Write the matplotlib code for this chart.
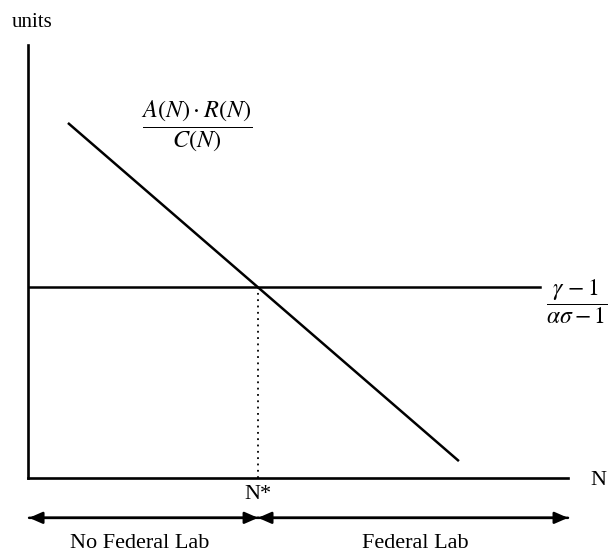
import matplotlib
matplotlib.use("Agg")
import matplotlib.pyplot as plt

plt.rcParams['font.family'] = ['Liberation Serif', 'DejaVu Serif']
plt.rcParams['mathtext.fontset'] = 'stix'

# chart values (arbitrary units, axis box is 0..10 both ways)
curve_n = [0.74, 7.98]
curve_val = [8.2, 0.39]
threshold = 4.4
threshold_end = 9.48
n_star = 4.26
region_labels = ["No Federal Lab", "Federal Lab"]
region_centers = [2.07, 7.17]

fig = plt.figure(figsize=(6.08, 5.52), dpi=100)
# axis box placed in pixels: left 28, right 568, top 45, bottom 478
ax = fig.add_axes([28 / 608, (552 - 478) / 552, 540 / 608, 433 / 552])
ax.set_xlim(0, 10)
ax.set_ylim(0, 10)
for s in ["top", "right"]:
    ax.spines[s].set_visible(False)
for s in ["left", "bottom"]:
    ax.spines[s].set_linewidth(1.9)
ax.set_xticks([])
ax.set_yticks([])

# downward sloping curve and flat threshold
ax.plot(curve_n, curve_val, color="black", lw=1.8, solid_capstyle="butt")
ax.plot([0, threshold_end], [threshold, threshold], color="black", lw=1.8)
ax.plot([n_star, n_star], [0, threshold], color="black", lw=1.3, ls=(0, (1, 2.5)))

ax.text(3.13, 8.11, r"$\dfrac{A(N)\cdot R(N)}{C(N)}$", fontsize=17.5,
        ha="center", va="center")
ax.text(10.17, 4.06, r"$\dfrac{\gamma\,-1}{\alpha\sigma-1}$", fontsize=17,
        ha="center", va="center", clip_on=False)

ax.text(0.07, 10.53, "units", fontsize=15, ha="center", va="center", clip_on=False)
ax.text(10.56, -0.05, "N", fontsize=16, ha="center", va="center", clip_on=False)
ax.text(n_star, -0.39, "N*", fontsize=16, ha="center", va="center", clip_on=False)

# region arrows below the axis
arrow_y = -0.92
aprops = dict(arrowstyle="-|>,head_length=0.8,head_width=0.35", color="black",
              lw=1.8, shrinkA=0, shrinkB=0)
ax.annotate("", xy=(0.02, arrow_y), xytext=(n_star, arrow_y),
            arrowprops=aprops, annotation_clip=False)
ax.annotate("", xy=(n_star, arrow_y), xytext=(0.02, arrow_y),
            arrowprops=aprops, annotation_clip=False)
ax.annotate("", xy=(10.0, arrow_y), xytext=(n_star, arrow_y),
            arrowprops=aprops, annotation_clip=False)
ax.annotate("", xy=(n_star, arrow_y), xytext=(10.0, arrow_y),
            arrowprops=aprops, annotation_clip=False)

for lab, cx in zip(region_labels, region_centers):
    ax.text(cx, -1.52, lab, fontsize=16, ha="center", va="center", clip_on=False)

fig.savefig("out.png", dpi=100)
